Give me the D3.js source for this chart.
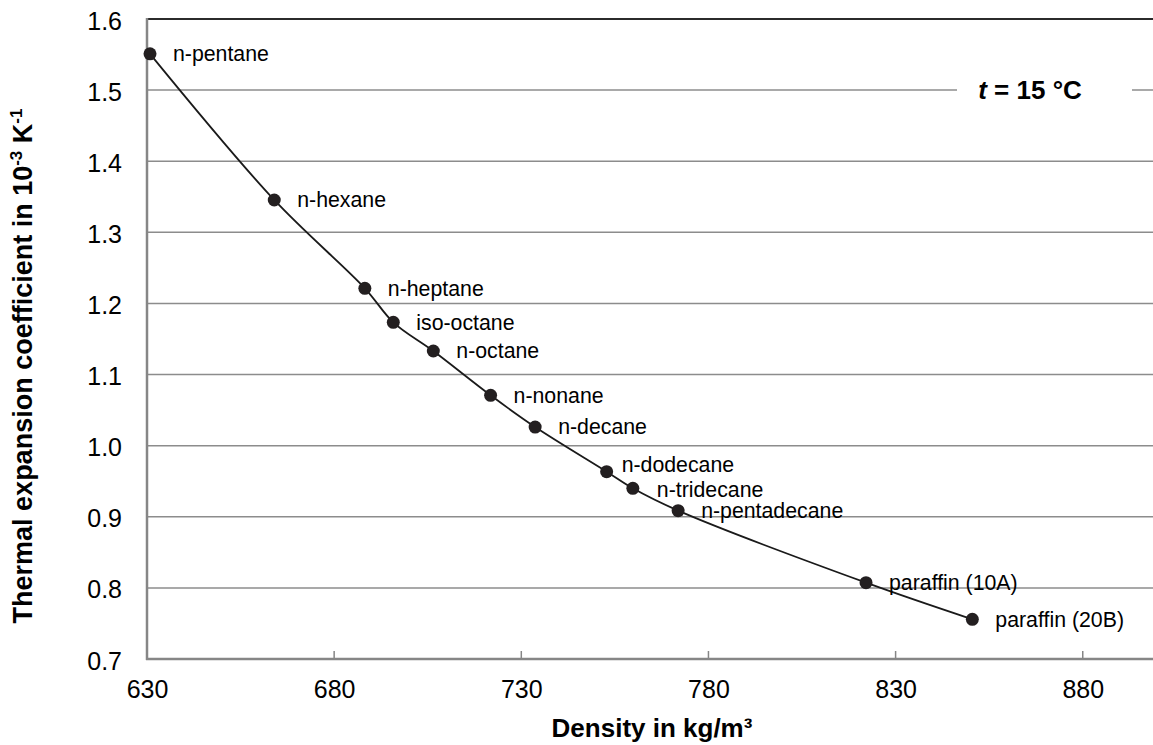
<!DOCTYPE html>
<html><head><meta charset="utf-8">
<script src="https://cdn.jsdelivr.net/npm/d3@7/dist/d3.min.js"></script>
<style>
html,body{margin:0;padding:0;background:#fff;overflow:hidden;}
svg text{font-family:"Liberation Sans",Arial,sans-serif;fill:#000;}
</style></head>
<body>
<svg id="chart" width="1153" height="745"></svg>
<script>
const substances = ["n-pentane","n-hexane","n-heptane","iso-octane","n-octane","n-nonane","n-decane","n-dodecane","n-tridecane","n-pentadecane","paraffin (10A)","paraffin (20B)"];
const densities = [630.8, 664.0, 688.2, 695.8, 706.5, 721.8, 733.7, 752.8, 759.8, 771.9, 822.1, 850.5];
const coefficients = [1.551, 1.3455, 1.2213, 1.1735, 1.1331, 1.0708, 1.0262, 0.9634, 0.940, 0.9086, 0.8073, 0.7558];
const xTicks = [630, 680, 730, 780, 830, 880];
const yTicks = [0.7, 0.8, 0.9, 1.0, 1.1, 1.2, 1.3, 1.4, 1.5, 1.6];

const svg = d3.select("#chart");
const L = 147, T = 19, B = 659;
const x = d3.scaleLinear().domain([630, 900]).range([L, L + 270 * 3.743]);
const y = d3.scaleLinear().domain([0.7, 1.6]).range([B, T]);
const R = x(900);

// gridlines
svg.append("g").selectAll("line").data(yTicks.filter(v => v > 0.7 && v < 1.6)).join("line")
  .attr("x1", L).attr("x2", R).attr("y1", d => y(d)).attr("y2", d => y(d))
  .attr("stroke", "#8c8c8c").attr("stroke-width", 1.5);

// top border
svg.append("line").attr("x1", L).attr("x2", R).attr("y1", y(1.6)).attr("y2", y(1.6))
  .attr("stroke", "#2b2b2b").attr("stroke-width", 2);

// x axis
const xAxis = d3.axisBottom(x).tickValues(xTicks).tickSize(0).tickPadding(21).tickFormat(d3.format("d"));
const gx = svg.append("g").attr("transform", `translate(0,${B})`).call(xAxis);
gx.select(".domain").remove();
gx.selectAll("text").attr("font-size", 25).attr("font-family", "Liberation Sans, Arial, sans-serif").attr("fill", "#000");
svg.append("g").selectAll("line").data(xTicks.slice(1)).join("line")
  .attr("x1", d => x(d)).attr("x2", d => x(d)).attr("y1", B).attr("y2", B - 8)
  .attr("stroke", "#868686").attr("stroke-width", 1.5);
svg.append("line").attr("x1", L - 1).attr("x2", R).attr("y1", B).attr("y2", B)
  .attr("stroke", "#868686").attr("stroke-width", 2.5);

// y axis
const yAxis = d3.axisLeft(y).tickValues(yTicks).tickSize(0).tickPadding(25).tickFormat(d3.format(".1f"));
const gy = svg.append("g").attr("transform", `translate(${L},0)`).call(yAxis);
gy.select(".domain").remove();
gy.selectAll("text").attr("font-size", 25).attr("font-family", "Liberation Sans, Arial, sans-serif").attr("fill", "#000").attr("dy", "0.4em");
svg.append("line").attr("x1", L).attr("x2", L).attr("y1", T - 1).attr("y2", B + 1)
  .attr("stroke", "#868686").attr("stroke-width", 2.5);

// t = 15 °C annotation
svg.append("rect").attr("x", 957).attr("y", y(1.5) - 14).attr("width", 175).attr("height", 28).attr("fill", "#fff");
const tt = svg.append("text").attr("x", 1030).attr("y", y(1.5)).attr("dy", "0.36em")
  .attr("text-anchor", "middle").attr("font-size", 26).attr("font-weight", "bold");
tt.append("tspan").attr("font-style", "italic").text("t");
tt.append("tspan").text(" = 15 °C");

// curve
const pts = densities.map((d, i) => ({ name: substances[i], d: d, c: coefficients[i] }));
const line = d3.line().x(p => x(p.d)).y(p => y(p.c)).curve(d3.curveCatmullRom.alpha(0.5));
svg.append("path").attr("d", line(pts)).attr("fill", "none").attr("stroke", "#1a1a1a").attr("stroke-width", 1.8);

// dots
svg.append("g").selectAll("circle").data(pts).join("circle")
  .attr("cx", p => x(p.d)).attr("cy", p => y(p.c)).attr("r", 6.5).attr("fill", "#231f20");

// labels
const nudge = { "n-dodecane": [-8, -7], "n-tridecane": [1, 1] };
svg.append("g").selectAll("text").data(pts).join("text")
  .attr("x", p => x(p.d) + 23 + (nudge[p.name] ? nudge[p.name][0] : 0))
  .attr("y", p => y(p.c) + (nudge[p.name] ? nudge[p.name][1] : 0))
  .attr("dy", "0.35em").attr("font-size", 21.3).text(p => p.name);

// axis titles
svg.append("text").attr("x", 652).attr("y", 737).attr("text-anchor", "middle")
  .attr("font-size", 26).attr("font-weight", "bold").text("Density in kg/m³");
const yt = svg.append("text").attr("transform", "translate(32,366) rotate(-90)").attr("text-anchor", "middle")
  .attr("font-size", 27).attr("font-weight", "bold");
yt.append("tspan").text("Thermal expansion coefficient in 10");
yt.append("tspan").attr("font-size", 17).attr("dy", -10).text("-3");
yt.append("tspan").attr("dy", 10).text(" K");
yt.append("tspan").attr("font-size", 17).attr("dy", -10).text("-1");
</script>
</body></html>
